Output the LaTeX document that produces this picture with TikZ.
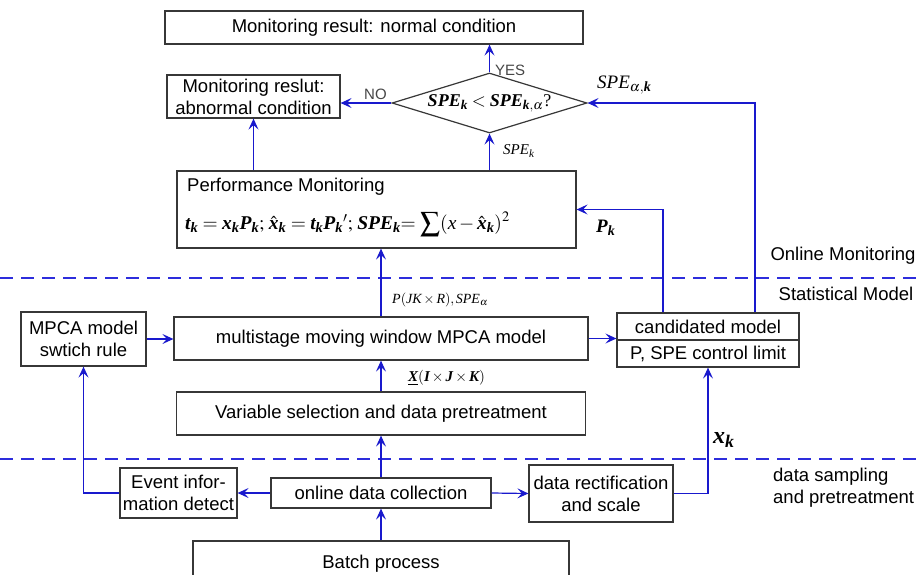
\documentclass[tikz,border=0pt]{standalone}
\usepackage{amsmath}
\usepackage{mathptmx}
\usepackage[no-math]{fontspec}
\setmainfont{Liberation Sans}
\newfontfamily\tmsf{Liberation Serif}
\usetikzlibrary{arrows.meta,shapes.geometric}

% bold italic and italic Times variables inside math
\newcommand\bv[1]{\text{\tmsf\bfseries\itshape #1}}
\newcommand\iv[1]{\text{\tmsf\itshape #1}}

\definecolor{lnblue}{RGB}{25,25,205}
\definecolor{dashblue}{RGB}{45,45,220}
\definecolor{boxgray}{RGB}{55,55,55}
\definecolor{txtgray}{RGB}{70,70,70}

\tikzset{
  box/.style={draw=boxgray, line width=1.2pt, inner sep=0pt, align=center,
              font=\fontsize{18.5}{22}\selectfont},
  conn/.style={draw=lnblue, line width=1.2pt,
               -{Stealth[length=11pt,width=10pt,inset=4.5pt]}},
  sepline/.style={draw=dashblue, line width=1.1pt, dash pattern=on 13pt off 8pt},
  side/.style={inner sep=0pt, font=\fontsize{18.5}{22}\selectfont, align=left},
  mlabel/.style={inner sep=0pt, anchor=west},
}

\begin{document}
\begin{tikzpicture}[x=1pt,y=-1pt]
\clip (0,0) rectangle (924,574);
\fill[white] (0,0) rectangle (924,574);

% section separators
\draw[sepline] (0,278) -- (924,278);
\draw[sepline] (0,459) -- (924,459);

% decision and results
\node[box, minimum width=418, minimum height=33] (normal) at (374,27.5)
  {Monitoring result: normal condition};
\node[box, minimum width=173, minimum height=43] (abn) at (253.5,96.5)
  {Monitoring reslut:\\abnormal condition};
\node[draw=boxgray, line width=1.2pt, diamond, inner sep=0pt,
      minimum width=195, minimum height=60] (dia) at (489.5,103) {};
\node[inner sep=0pt, font=\fontsize{18}{20}\selectfont] (diatext) at (dia.center)
  {$\bv{SPE}_{\bv{k}} < \bv{SPE}_{\bv{k},\alpha}\text{\tmsf ?}$};

% performance monitoring
\node[box, minimum width=399, minimum height=77] (perf) at (376.5,209.5) {};
\node[side, anchor=west] (perftitle) at (187,187) {Performance Monitoring};
\node[mlabel, font=\fontsize{19.5}{21}\selectfont] (perfeq) at (185,224)
  {$\bv{t}_{\bv{k}} = \bv{x}_{\bv{k}}\bv{P}_{\bv{k}};\,\hat{\bv{x}}_{\bv{k}} = \bv{t}_{\bv{k}}\bv{P}_{\bv{k}}{}';\,\bv{SPE}_{\bv{k}}{=}\,\displaystyle\sum(\iv{x}-\hat{\bv{x}}_{\bv{k}})^2$};

% statistical model
\node[box, minimum width=125, minimum height=54] (mpca) at (83.5,339)
  {MPCA model\\swtich rule};
\node[box, minimum width=414, minimum height=43] (multi) at (381,338.5)
  {multistage moving window MPCA model};
\node[box, minimum width=182, minimum height=27] (cmtop) at (708,326.5)
  {candidated model};
\node[box, minimum width=182, minimum height=27] (cmbot) at (708,353.5)
  {P, SPE control limit};
\node[box, minimum width=409, minimum height=43] (var) at (381,413.5)
  {Variable selection and data pretreatment};

% data sampling
\node[box, minimum width=117, minimum height=50] (event) at (178.5,493)
  {Event infor-\\mation detect};
\node[box, minimum width=220, minimum height=30] (online) at (381,493)
  {online data collection};
\node[box, minimum width=144, minimum height=57] (rect) at (601,493.5)
  {data rectification\\and scale};
\node[box, minimum width=376, minimum height=46] (batch) at (381,564)
  {Batch process};

% connectors
\draw[conn] (dia.north) -- (dia.north |- normal.south);
\draw[conn] (dia.west) -- (dia.west -| abn.east);
\draw[conn] (abn.south |- perf.north) -- (abn.south);
\draw[conn] (dia.south |- perf.north) -- (dia.south);
\draw[conn] ([xshift=-45pt]cmtop.north) |- (perf.east);
\draw[conn] ([xshift=47pt]cmtop.north) |- (dia.east);
\draw[conn] (multi.north) -- (multi.north |- perf.south);
\draw[conn] (mpca.east) -- (mpca.east -| multi.west);
\draw[conn] (multi.east) -- (multi.east -| cmtop.west);
\draw[conn] (var.north) -- (multi.south);
\draw[conn] (online.north) -- (var.south);
\draw[conn] (batch.north) -- (online.south);
\draw[conn] (online.west) -- (event.east);
\draw[conn] (online.east) -- (rect.west);
\draw[conn] (event.west) -| (mpca.south);
\draw[conn] (rect.east) -| (cmbot.south);

% connector labels
\node[mlabel, text=txtgray, font=\fontsize{15}{17}\selectfont] (yes) at (495,70) {YES};
\node[mlabel, text=txtgray, font=\fontsize{15}{17}\selectfont] (no) at (364,94) {NO};
\node[mlabel, font=\fontsize{15}{17}\selectfont] (lspek) at (503,151) {$\iv{SPE}_{\iv{k}}$};
\node[mlabel, font=\fontsize{19}{21}\selectfont] (lspeak) at (597,85) {$\iv{SPE}_{\alpha,\bv{k}}$};
\node[mlabel, font=\fontsize{19}{21}\selectfont] (lpk) at (596,228) {$\bv{P}_{\bv{k}}$};
\node[mlabel, font=\fontsize{14}{16}\selectfont] (lpjk) at (392,300)
  {$\iv{P}(\iv{JK}\times\iv{R}),\iv{SPE}_{\alpha}$};
\node[mlabel, font=\fontsize{15}{17}\selectfont] (lx) at (408,378)
  {$\underline{\bv{X}}(\bv{I}\times\bv{J}\times\bv{K})$};
\node[mlabel, font=\fontsize{24}{26}\selectfont] (lxk) at (713,440) {$\bv{x}_{\bv{k}}$};

% section names
\node[side] (online-mon) at (843,256) {Online Monitoring};
\node[side] (stat-model) at (846,294) {Statistical Model};
\node[side, anchor=west] (sampling) at (773,487.5) {data sampling\\and pretreatment};
\end{tikzpicture}
\end{document}
